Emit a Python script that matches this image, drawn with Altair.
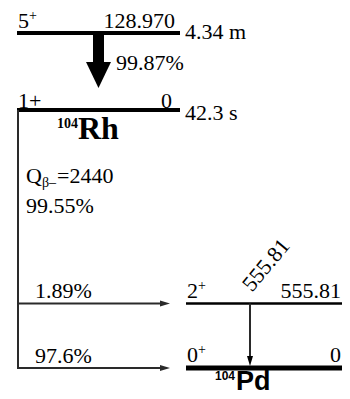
import altair as alt
import pandas as pd

# ---------------- data ----------------
parent_spin_main = ["5", "1+"]
parent_spin_sup = ["+", ""]
parent_energies = ["128.970", "0"]
parent_halflives = ["4.34 m", "42.3 s"]
it_branch = "99.87%"
q_sym = "Q"
q_sub = "β–"
q_value = "=2440"
beta_total = "99.55%"
beta_branches = ["1.89%", "97.6%"]
daughter_spin_main = ["2", "0"]
daughter_spin_sup = ["+", "+"]
daughter_energies = ["555.81", "0"]
gamma_energy = "555.81"
parent_mass, parent_elem = "104", "Rh"
daughter_mass, daughter_elem = "104", "Pd"

# ---------------- layout (page pixels) ----------------
par_y = [33, 110]
par_x0, par_x1 = 17, 180
dau_y = [303.5, 368]
dau_x0, dau_x1 = 186, 342
par_w = [4, 4]
dau_w = [2.5, 5]

X = lambda f: alt.X(f, type="quantitative", scale=alt.Scale(domain=[8, 342], nice=False, zero=False), axis=None)
Y = lambda f: alt.Y(f, type="quantitative", scale=alt.Scale(domain=[8, 391], nice=False, zero=False, reverse=True), axis=None)

# level lines
lev = pd.DataFrame({
    "x": [par_x0, par_x0, dau_x0, dau_x0],
    "x2": [par_x1, par_x1, dau_x1, dau_x1],
    "y": par_y + dau_y,
    "w": par_w + dau_w,
})
levels = alt.Chart(lev).mark_rule(color="black", strokeCap="butt").encode(
    x=X("x"), x2="x2", y=Y("y"), strokeWidth=alt.StrokeWidth("w:Q", scale=None))

# thin lines (beta feeding + gamma)
thin = pd.DataFrame({
    "x": [18, 18, 18, 250],
    "x2": [18, 163, 163, 250],
    "y": [par_y[1], dau_y[0], dau_y[1], dau_y[0]],
    "y2": [dau_y[1] + 1, dau_y[0], dau_y[1], dau_y[1] - 6],
})
lines = alt.Chart(thin).mark_rule(color="#2a2a2a", strokeWidth=2, strokeCap="butt").encode(
    x=X("x"), x2="x2", y=Y("y"), y2="y2")

# big IT arrow
shaft_df = pd.DataFrame({"x": [93], "x2": [104], "y": [35], "y2": [63]})
shaft = alt.Chart(shaft_df).mark_rect(color="black").encode(x=X("x"), x2="x2", y=Y("y"), y2="y2")
head_df = pd.DataFrame({"x": [98.5], "y": [75]})
head = alt.Chart(head_df).mark_point(
    shape="M-0.96,-1L0.96,-1L0,1Z", filled=True, opacity=1, color="black", size=676, strokeWidth=0
).encode(x=X("x"), y=Y("y"))

# small arrowheads
right_df = pd.DataFrame({"x": [165, 165], "y": dau_y})
right_heads = alt.Chart(right_df).mark_point(
    shape="M-1,-0.6L1,0L-1,0.6Z", filled=True, opacity=1, color="#2a2a2a", size=100, strokeWidth=0
).encode(x=X("x"), y=Y("y"))
down_df = pd.DataFrame({"x": [250], "y": [361]})
down_head = alt.Chart(down_df).mark_point(
    shape="M-0.6,-1L0.6,-1L0,1Z", filled=True, opacity=1, color="black", size=100, strokeWidth=0
).encode(x=X("x"), y=Y("y"))

SERIF = "Liberation Serif"
SANS = "Liberation Sans"

def text_layer(df, **kw):
    return alt.Chart(df).mark_text(baseline="alphabetic", color="black", **kw).encode(
        x=X("x"), y=Y("y"), text="t:N")

left_txt = pd.DataFrame({
    "t": [parent_spin_main[0], parent_halflives[0], it_branch, parent_spin_main[1], parent_halflives[1],
          q_sym, q_value, beta_total, beta_branches[0], beta_branches[1],
          daughter_spin_main[0], daughter_spin_main[1]],
    "x": [18, 185, 116, 18, 185, 26, 57, 26, 35, 35, 187, 187],
    "y": [28, 39, 70, 108, 120, 183, 183, 213, 298, 363, 298, 362],
})
right_txt = pd.DataFrame({
    "t": [parent_energies[0], parent_energies[1], daughter_energies[0], daughter_energies[1]],
    "x": [175, 172, 341, 341],
    "y": [28, 108, 298, 362],
})
sup_txt = pd.DataFrame({
    "t": [parent_spin_sup[0], daughter_spin_sup[0], daughter_spin_sup[1]],
    "x": [29, 198, 198],
    "y": [20, 290, 354],
})
sub_txt = pd.DataFrame({"t": [q_sub], "x": [42], "y": [187]})
rot_txt = pd.DataFrame({"t": [gamma_energy], "x": [266], "y": [265]})
rh_mass = pd.DataFrame({"t": [parent_mass], "x": [57], "y": [128]})
rh_elem = pd.DataFrame({"t": [parent_elem], "x": [78], "y": [139]})
pd_mass = pd.DataFrame({"t": [daughter_mass], "x": [215], "y": [380]})
pd_elem = pd.DataFrame({"t": [daughter_elem], "x": [236], "y": [390]})

texts = [
    text_layer(left_txt, font=SERIF, fontSize=22, align="left"),
    text_layer(right_txt, font=SERIF, fontSize=22, align="right"),
    text_layer(sup_txt, font=SERIF, fontSize=14, align="left"),
    text_layer(sub_txt, font=SERIF, fontSize=14, align="left"),
    alt.Chart(rot_txt).mark_text(font=SERIF, fontSize=22, align="center", baseline="middle",
                                 angle=310, color="black").encode(x=X("x"), y=Y("y"), text="t:N"),
    text_layer(rh_mass, font=SERIF, fontSize=14, fontWeight="bold", align="left"),
    text_layer(rh_elem, font=SERIF, fontSize=32, fontWeight="bold", align="left"),
    text_layer(pd_mass, font=SANS, fontSize=12, fontWeight="bold", align="left"),
    text_layer(pd_elem, font=SANS, fontSize=27, fontWeight="bold", align="left"),
]

chart = alt.layer(levels, lines, shaft, head, right_heads, down_head, *texts).properties(
    width=334, height=383, padding=0, autosize=alt.AutoSizeParams(type="none")
).configure_view(stroke=None)

chart.save("out.html", embed_options={"renderer": "svg", "actions": False})
